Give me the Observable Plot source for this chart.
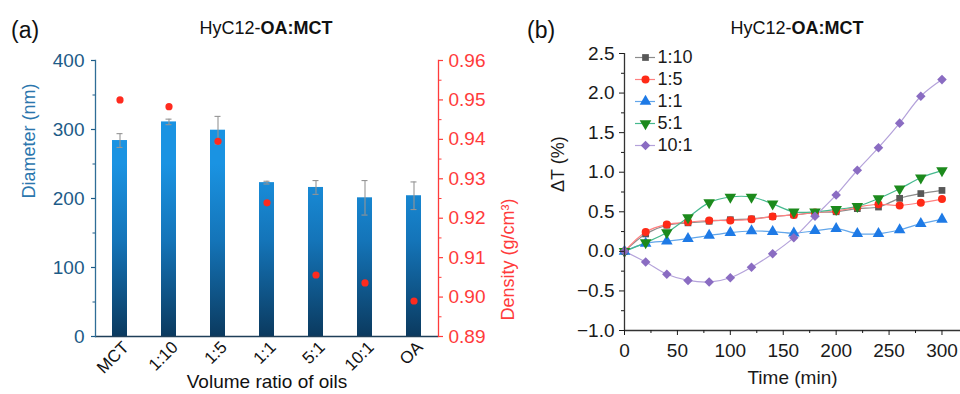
<!DOCTYPE html>
<html><head><meta charset="utf-8">
<script src="https://cdn.jsdelivr.net/npm/d3@7"></script>
<script src="https://cdn.jsdelivr.net/npm/@observablehq/plot@0.6"></script>
<style>
body{margin:0;background:#fff;font-family:"Liberation Sans",Arial,sans-serif;}
#wrap{position:relative;width:960px;height:394px;overflow:hidden;background:#fff;}
.abs{position:absolute;}
.title{font-size:18px;color:#111;white-space:nowrap;transform:translateX(-50%);line-height:20px;}
.tag{font-size:23px;color:#111;line-height:26px;}
svg{overflow:visible;}
</style></head><body>
<div id="wrap">
 <div id="pa" class="abs" style="left:0;top:0"></div>
 <div id="pb" class="abs" style="left:530px;top:0"></div>
 <div id="leg" class="abs" style="left:633px;top:45px"></div>
 <div class="abs tag" style="left:11px;top:17px">(a)</div>
 <div class="abs tag" style="left:527px;top:17px">(b)</div>
 <div class="abs title" style="left:266px;top:18px">HyC12-<b>OA:MCT</b></div>
 <div class="abs title" style="left:797px;top:18px">HyC12-<b>OA:MCT</b></div>
</div>
<script>
// ---------- Panel (a) data ----------
const categories = ["MCT", "1:10", "1:5", "1:1", "5:1", "10:1", "OA"];
const diameter = [284, 311, 299, 223, 216, 201, 204];
const diameterErr = [10, 4, 20, 2, 10, 25, 20];
const density = [0.950, 0.9483, 0.9395, 0.9239, 0.9056, 0.9036, 0.899];
const diameterTicks = [0, 100, 200, 300, 400];
const densityTicks = [0.89, 0.90, 0.91, 0.92, 0.93, 0.94, 0.95, 0.96];

// ---------- Panel (b) data ----------
const time = [0, 20, 40, 60, 80, 100, 120, 140, 160, 180, 200, 220, 240, 260, 280, 300];
const s1_10 = [0, 0.22, 0.33, 0.36, 0.38, 0.40, 0.41, 0.44, 0.46, 0.49, 0.50, 0.54, 0.56, 0.67, 0.73, 0.77];
const s1_5  = [0, 0.245, 0.34, 0.37, 0.39, 0.39, 0.405, 0.44, 0.46, 0.49, 0.51, 0.56, 0.595, 0.58, 0.615, 0.66];
const s1_1  = [0, 0.10, 0.13, 0.16, 0.20, 0.237, 0.257, 0.25, 0.23, 0.26, 0.287, 0.224, 0.224, 0.27, 0.35, 0.405];
const s5_1  = [0, 0.11, 0.237, 0.427, 0.616, 0.687, 0.687, 0.60, 0.50, 0.50, 0.53, 0.57, 0.667, 0.79, 0.93, 1.02];
const s10_1 = [0, -0.135, -0.29, -0.367, -0.388, -0.333, -0.20, -0.03, 0.173, 0.443, 0.713, 1.025, 1.31, 1.62, 1.96, 2.17];
const seriesNames = ["1:10", "1:5", "1:1", "5:1", "10:1"];
const dTTicks = [-1.0, -0.5, 0.0, 0.5, 1.0, 1.5, 2.0, 2.5];
const timeTicks = [0, 50, 100, 150, 200, 250, 300];

const FONT = '"Liberation Sans", Arial, sans-serif';

// ---------- Panel (a) ----------
const blueTick = "#1d5b87", blueAxis = "#2f6d96", blueLabel = "#2b76ad", red = "#ff3b3b";
const dMin = 0.89, dMax = 0.96, yMax = 400;
const toY = d => (d - dMin) / (dMax - dMin) * yMax;
const fromY = v => dMin + v / yMax * (dMax - dMin);

const barData = categories.map((c, i) => ({cat: c, dia: diameter[i], err: diameterErr[i], den: density[i]}));
const errColor = "#959595";

const plotA = Plot.plot({
  width: 530, height: 394, marginLeft: 95, marginRight: 92, marginTop: 60, marginBottom: 58,
  style: {fontFamily: FONT, background: "transparent", overflow: "visible"},
  x: {domain: categories, paddingInner: 0.7, paddingOuter: 0.35, axis: null},
  y: {domain: [0, 400], axis: null},
  marks: [
    Plot.barY(barData, {x: "cat", y: "dia", fill: "url(#barGrad)"}),
    Plot.ruleX(barData, {x: "cat", y1: d => d.dia - d.err, y2: d => d.dia + d.err, stroke: errColor, strokeWidth: 1.1}),
    Plot.tickY(barData, {x: "cat", y: d => d.dia + d.err, stroke: errColor, strokeWidth: 1.1, insetLeft: 4.5, insetRight: 4.5}),
    Plot.tickY(barData, {x: "cat", y: d => d.dia - d.err, stroke: errColor, strokeWidth: 1.1, insetLeft: 4.5, insetRight: 4.5}),
    Plot.dot(barData, {x: "cat", y: d => toY(d.den), r: 3.6, fill: "#ff2b1f"}),
    Plot.ruleY([0], {stroke: "#1f3f58", strokeWidth: 1.3}),
    Plot.frame({anchor: "left", stroke: blueAxis, strokeWidth: 1.3}),
    Plot.frame({anchor: "right", stroke: red, strokeWidth: 1.3}),
    Plot.axisY({ticks: diameterTicks, tickSize: 4, tickPadding: 7, fontSize: 19, color: blueTick, strokeWidth: 1.2, label: null}),
    Plot.axisY({ticks: [50, 150, 250, 350], tickSize: 2.5, tickFormat: () => "", color: blueTick, label: null}),
    Plot.axisY({anchor: "right", ticks: densityTicks.map(toY), tickFormat: v => d3.format(".2f")(fromY(v)),
      tickSize: 4, tickPadding: 6, fontSize: 19, color: red, strokeWidth: 1.2, label: null}),
    Plot.axisY({anchor: "right", ticks: densityTicks.slice(0, -1).map(d => toY(d + 0.005)), tickFormat: () => "",
      tickSize: 2.5, color: red, label: null}),
    Plot.text(categories, {x: d => d, frameAnchor: "bottom", rotate: -45, textAnchor: "end", lineAnchor: "middle",
      dx: 6, dy: 8, fontSize: 17, fill: "#111"}),
    Plot.text(["Diameter (nm)"], {frameAnchor: "left", rotate: -90, dx: -66, fontSize: 18, fill: blueLabel}),
    Plot.text(["Density (g/cm³)"], {frameAnchor: "right", rotate: -90, dx: 70, fontSize: 18, fill: red}),
    Plot.text(["Volume ratio of oils"], {frameAnchor: "bottom", dy: 51, fontSize: 19, fill: "#111"})
  ]
});
{
  const y = plotA.scale("y");
  d3.select(plotA).insert("defs", ":first-child").html(
    `<linearGradient id="barGrad" gradientUnits="userSpaceOnUse" x1="0" x2="0" y1="${y.apply(250)}" y2="${y.apply(0)}">
       <stop offset="0" stop-color="#1a93e2"/><stop offset="0.45" stop-color="#1474b8"/><stop offset="1" stop-color="#0b3a5f"/>
     </linearGradient>`);
}
document.getElementById("pa").append(plotA);

// ---------- Panel (b) ----------
const sqrt3 = Math.sqrt(3);
const triangleDown = {
  draw(context, size) {
    const y = -Math.sqrt(size / (sqrt3 * 3));
    context.moveTo(0, -y * 2);
    context.lineTo(-sqrt3 * y, y);
    context.lineTo(sqrt3 * y, y);
    context.closePath();
  }
};
const series = [
  {name: seriesNames[0], values: s1_10, color: "#585858", line: "#8c8c8c", symbol: d3.symbolSquare, r: 3.8},
  {name: seriesNames[1], values: s1_5, color: "#ff2a17", line: "#ff8080", symbol: d3.symbolCircle, r: 4},
  {name: seriesNames[2], values: s1_1, color: "#1e7ae6", line: "#62a6ea", symbol: d3.symbolTriangle, r: 4.3},
  {name: seriesNames[3], values: s5_1, color: "#1c8a1c", line: "#45b98e", symbol: triangleDown, r: 4.3},
  {name: seriesNames[4], values: s10_1, color: "#8a6cc2", line: "#b4a2da", symbol: d3.symbolDiamond2, r: 4.3}
];
const rowsOf = s => time.map((t, i) => ({t, v: s.values[i]}));

const plotB = Plot.plot({
  width: 430, height: 394, marginLeft: 94, marginRight: 0, marginTop: 53, marginBottom: 64,
  style: {fontFamily: FONT, background: "transparent", overflow: "visible"},
  x: {domain: [0, 317.5], axis: null},
  y: {domain: [-1, 2.5], axis: null},
  marks: [
    ...series.map(s => Plot.line(rowsOf(s), {x: "t", y: "v", stroke: s.line, strokeWidth: 1.2, curve: "catmull-rom"})),
    ...series.map(s => Plot.dot(rowsOf(s), {x: "t", y: "v", symbol: s.symbol, r: s.r, fill: s.color, stroke: "none"})),
    Plot.ruleX([0], {stroke: "#333", strokeWidth: 1.3}),
    Plot.ruleY([-1], {stroke: "#333", strokeWidth: 1.3}),
    Plot.axisY({ticks: dTTicks, tickFormat: d3.format(".1f"), tickSize: 5, tickPadding: 5, fontSize: 19, color: "#1a1a1a", label: null}),
    Plot.axisY({ticks: dTTicks.slice(0, -1).map(d => d + 0.25), tickFormat: () => "", tickSize: 3, color: "#1a1a1a", label: null}),
    Plot.axisX({ticks: timeTicks, tickFormat: d3.format("d"), tickSize: 5, tickPadding: 8, fontSize: 19, color: "#1a1a1a", label: null}),
    Plot.axisX({ticks: timeTicks.map(d => d + 25), tickFormat: () => "", tickSize: 3, color: "#1a1a1a", label: null}),
    Plot.text(["ΔT (%)"], {frameAnchor: "left", rotate: -90, dx: -66, fontSize: 18, fill: "#1a1a1a"}),
    Plot.text(["Time (min)"], {frameAnchor: "bottom", dy: 53, fontSize: 19, fill: "#1a1a1a"})
  ]
});
document.getElementById("pb").append(plotB);

// ---------- Legend for (b) ----------
const legend = Plot.plot({
  width: 70, height: 112, marginLeft: 2, marginRight: 48, marginTop: 11, marginBottom: 11,
  style: {fontFamily: FONT, background: "transparent", overflow: "visible"},
  x: {type: "band", domain: ["k"], padding: 0, axis: null},
  y: {type: "point", domain: seriesNames, padding: 0, axis: null},
  marks: [
    ...series.map(s => Plot.tickY([s], {x: () => "k", y: "name", stroke: s.line, strokeWidth: 1.2})),
    ...series.map(s => Plot.dot([s], {x: () => "k", y: "name", symbol: s.symbol, r: s.r, fill: s.color, stroke: "none"})),
    Plot.text(series, {x: () => "k", y: "name", text: "name", dx: 12, textAnchor: "start", fontSize: 18, fill: "#1a1a1a"})
  ]
});
document.getElementById("leg").append(legend);
</script>
</body></html>
